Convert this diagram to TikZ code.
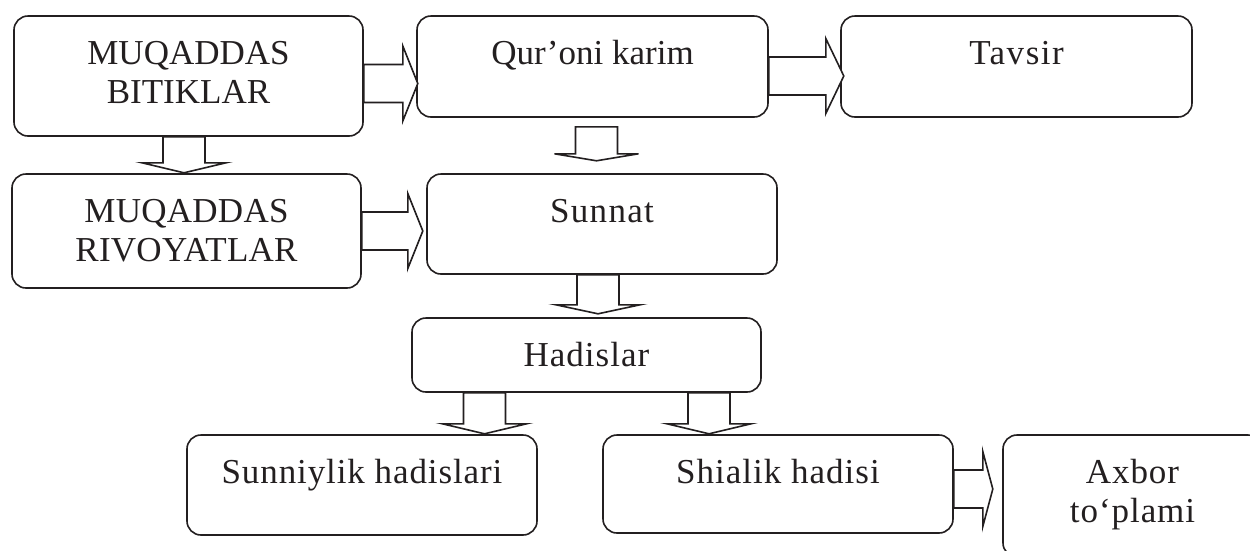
\documentclass[tikz,border=0pt]{standalone}
\usepackage{fontspec}
\setmainfont{Liberation Serif}
\usetikzlibrary{calc}
\definecolor{ink}{HTML}{231F20}
\tikzset{
  bx/.style={draw=ink, line width=1.6pt, rounded corners=14pt, inner sep=0pt, text=ink,
    font=\fontsize{35}{39}\selectfont},
  blk/.style={draw=ink, fill=white, line width=1.6pt, line join=miter}
}
% box content: [letter spacing] width, height, text (first baseline 48 below the top)
\newcommand\bxtext[4][0]{\parbox[t][#3pt][t]{#2pt}{\centering\addfontfeatures{LetterSpace=#1}\rule{0pt}{48pt}#4}}
% block arrow pointing down: start coordinate, shaft length, total length
\newcommand\blkdown[3]{\path #1 coordinate (tmpa);
  \draw[blk] ([xshift=-21pt]tmpa) -- ++(0,#2) -- ++(-21,0) -- ++(42,#3-#2)
    -- ++(42,#2-#3) -- ++(-21,0) -- ++(0,-#2) -- cycle;}
% block arrow pointing right: start coordinate, shaft length, total length
\newcommand\blkright[3]{\path #1 coordinate (tmpa);
  \draw[blk] ([yshift=19pt]tmpa) -- ++(#2,0) -- ++(0,-18.5) -- ++(#3-#2,37.5)
    -- ++(#2-#3,37.5) -- ++(0,-18.5) -- ++(-#2,0) -- cycle;}
\begin{document}
\begin{tikzpicture}[x=1pt,y=-1pt]
\useasboundingbox (0,0) rectangle (1250,550);
\clip (0,0) rectangle (1250,550);
\fill[white] (0,0) rectangle (1250,550);

\node[bx] (b1) at (188.5,76)  {\bxtext{349}{120}{MUQADDAS\\BITIKLAR}};
\node[bx] (b2) at (592.5,66.5) {\bxtext{351}{101}{Qur’oni karim}};
\node[bx] (b3) at (1016.5,66.5) {\bxtext[4.3]{351}{101}{Tavsir}};
\node[bx] (b4) at (186.5,231) {\bxtext[0.8]{349}{114}{MUQADDAS\\RIVOYATLAR}};
\node[bx] (b5) at (602,224)   {\bxtext[3.8]{350}{100}{Sunnat}};
\node[bx] (b6) at (586.5,355) {\bxtext[2.9]{349}{74}{Hadislar}};
\node[bx] (b7) at (362,485)   {\bxtext[2.6]{350}{100}{Sunniylik hadislari}};
\node[bx] (b8) at (778,484)   {\bxtext[2.9]{350}{98}{Shialik hadisi}};
\node[bx] (b9) at (1132.5,496) {\bxtext[2.7]{259}{122}{Axbor\\to‘plami}};

% right block arrows
\blkright{([yshift=-7.5pt]b1.east)}{39}{54}
\blkright{([yshift=-9.5pt]b2.east)}{57}{75}
\blkright{(b4.east)}{46}{61}
\blkright{([yshift=-5pt]b8.east)}{29}{39}

% down block arrows
\blkdown{([xshift=-4.5pt]b1.south)}{26}{36}
\blkdown{([xshift=4pt,yshift=-9pt]b2.south)}{27}{34}
\blkdown{([xshift=-4pt]b5.south)}{30}{39}
\blkdown{([xshift=-102pt]b6.south)}{31}{41}
\blkdown{([xshift=122.5pt]b6.south)}{31}{41}
\end{tikzpicture}
\end{document}
